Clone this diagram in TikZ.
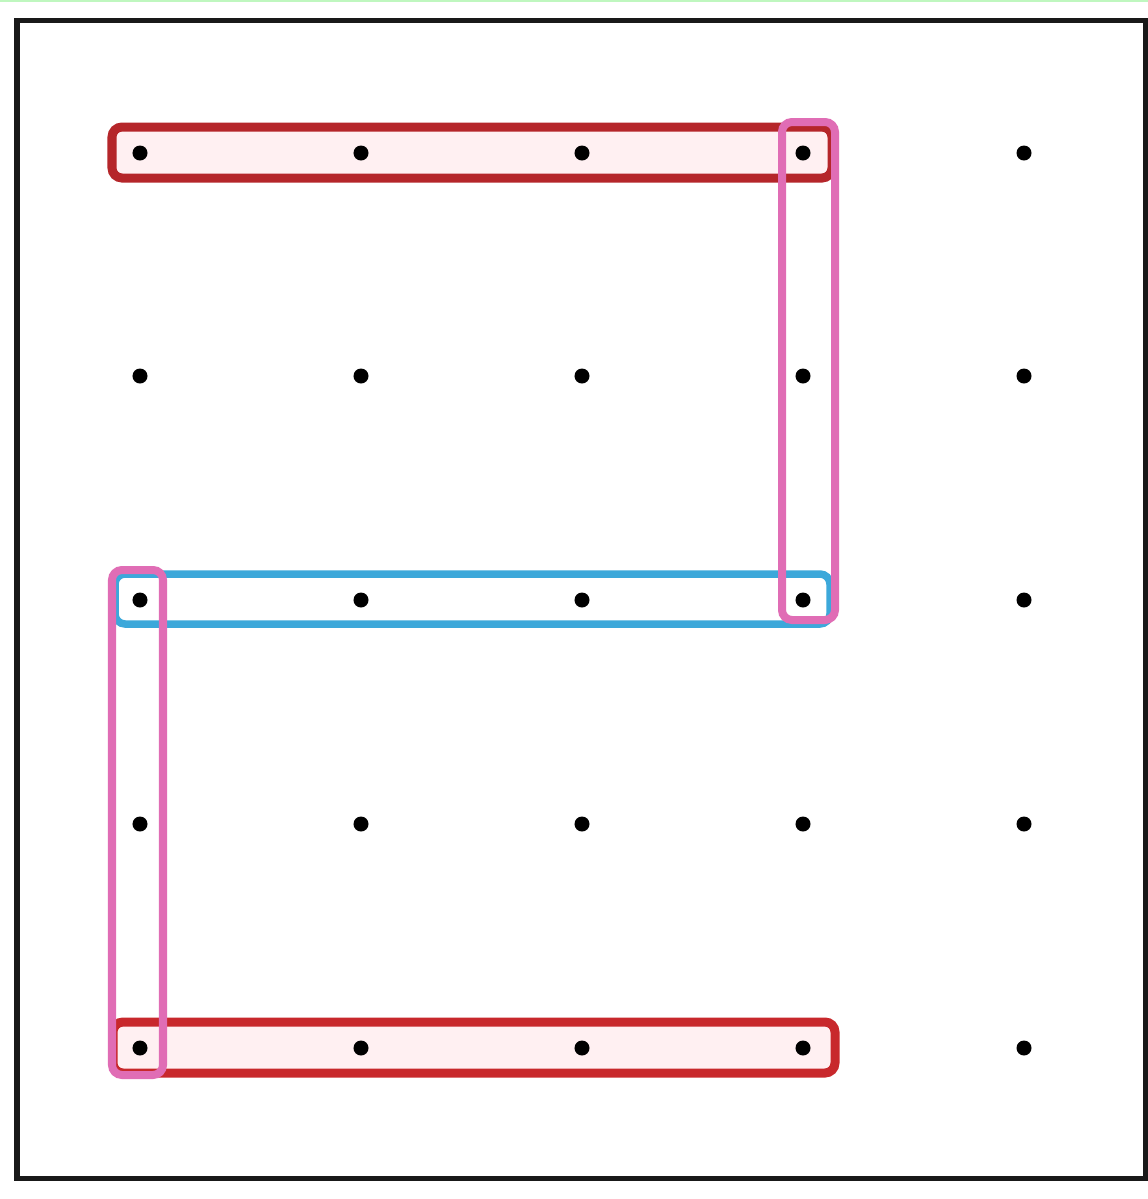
\documentclass[tikz,border=0pt]{standalone}
\definecolor{dkred}{HTML}{B5262A}
\definecolor{brred}{HTML}{C8282C}
\definecolor{hpink}{HTML}{E06DB5}
\definecolor{skyb}{HTML}{3CA8DA}
\definecolor{lpink}{HTML}{FFF0F2}
\definecolor{lgreen}{HTML}{BFF7BF}
\tikzset{
  dot/.style={circle,fill=black,inner sep=0pt,minimum size=0.15cm},
  frame/.style={draw=black!90,line width=0.05cm},
  redbar/.style={draw=dkred,line width=0.09cm,rounded corners=0.1cm,fill=lpink},
  redbarb/.style={draw=brred,line width=0.09cm,rounded corners=0.1cm,fill=lpink},
  pinkbar/.style={draw=hpink,line width=0.08cm,rounded corners=0.1cm},
  bluebar/.style={draw=skyb,line width=0.075cm,rounded corners=0.1cm},
}
\begin{document}
\begin{tikzpicture}[x=0.01cm,y=-0.01cm]
\useasboundingbox (0,0) rectangle (1148,1199);
\fill[white] (0,0) rectangle (1148,1199);
\draw[lgreen,line width=0.02cm] (0,1) -- (1148,1);
\draw[frame] (17,20) rectangle (1145,1178);
% highlighted groups
\draw[redbar]  (112,127) rectangle (832,178);
\draw[redbarb] (113,1022) rectangle (835,1073);
\draw[bluebar] (115,574) rectangle (830,624);
\draw[pinkbar] (782,122) rectangle (835,620);
\draw[pinkbar] (112,570) rectangle (163,1075);
% grid of dots
\foreach \i/\x in {1/140,2/361,3/582,4/803,5/1024}
  \foreach \j/\y in {1/153,2/376,3/600,4/824,5/1048}
    \node[dot] (d\i\j) at (\x,\y) {};
\end{tikzpicture}
\end{document}
